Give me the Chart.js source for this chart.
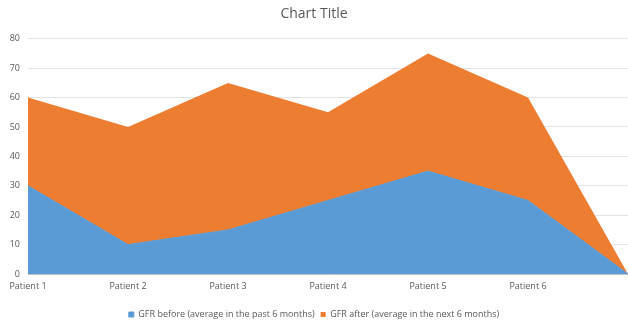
<!DOCTYPE html>
<html>
<head>
<meta charset="utf-8">
<script src="https://cdn.jsdelivr.net/npm/chart.js@4/dist/chart.umd.min.js"></script>
<style>
  html, body { margin: 0; padding: 0; background: #fff; }
  #wrap { width: 628px; height: 322px; }
</style>
</head>
<body>
<div id="wrap"><canvas id="myChart"></canvas></div>
<script>
const categories = ["Patient 1", "Patient 2", "Patient 3", "Patient 4", "Patient 5", "Patient 6", ""];
const gfrBefore = [30, 10, 15, 25, 35, 25, 0];
const gfrAfter = [30, 40, 50, 30, 40, 35, 0];
const yTicks = [0, 10, 20, 30, 40, 50, 60, 70, 80];

const FONT = "'Open Sans', 'Liberation Sans', sans-serif";
const ctx = document.getElementById("myChart").getContext("2d");

new Chart(ctx, {
  type: "line",
  data: {
    labels: categories,
    datasets: [
      {
        label: "GFR before (average in the past 6 months)",
        data: gfrBefore,
        backgroundColor: "#5B9BD5",
        borderColor: "#5B9BD5",
        borderWidth: 1,
        pointRadius: 0,
        fill: "origin",
      },
      {
        label: "GFR after (average in the next 6 months)",
        data: gfrAfter,
        backgroundColor: "#ED7D31",
        borderColor: "#ED7D31",
        borderWidth: 0,
        pointRadius: 0,
        fill: "-1",
      },
    ],
  },
  options: {
    responsive: true,
    maintainAspectRatio: false,
    animation: false,
    layout: { padding: { left: 0, right: 0, top: 0, bottom: -7 } },
    plugins: {
      title: {
        display: true,
        text: "Chart Title",
        color: "#595959",
        font: { family: FONT, size: 14, weight: "normal" },
        padding: { top: 6, bottom: 16 },
      },
      legend: {
        position: "bottom",
        labels: {
          color: "#595959",
          font: { family: FONT, size: 9 },
          boxWidth: 5,
          boxHeight: 5,
          padding: 6,
        },
      },
      tooltip: { enabled: false },
    },
    scales: {
      x: {
        offset: false,
        grid: { display: false, drawTicks: false },
        border: { color: "#bfbfbf" },
        ticks: {
          color: "#595959",
          font: { family: FONT, size: 9 },
          maxRotation: 0,
          autoSkip: false,
          padding: 7,
        },
        afterFit(scale) {
          scale.height = 30;
          scale.paddingRight = 0; // let the last point sit on the right edge
        },
      },
      y: {
        stacked: true,
        min: 0,
        max: 80,
        afterBuildTicks(scale) { scale.ticks = yTicks.map((v) => ({ value: v })); },
        grid: { color: "#e3e3e3", drawTicks: false },
        border: { display: false },
        ticks: {
          color: "#595959",
          font: { family: FONT, size: 9 },
          padding: 8,
        },
        afterFit(scale) { scale.width = 28; },
      },
    },
  },
});
</script>
</body>
</html>
